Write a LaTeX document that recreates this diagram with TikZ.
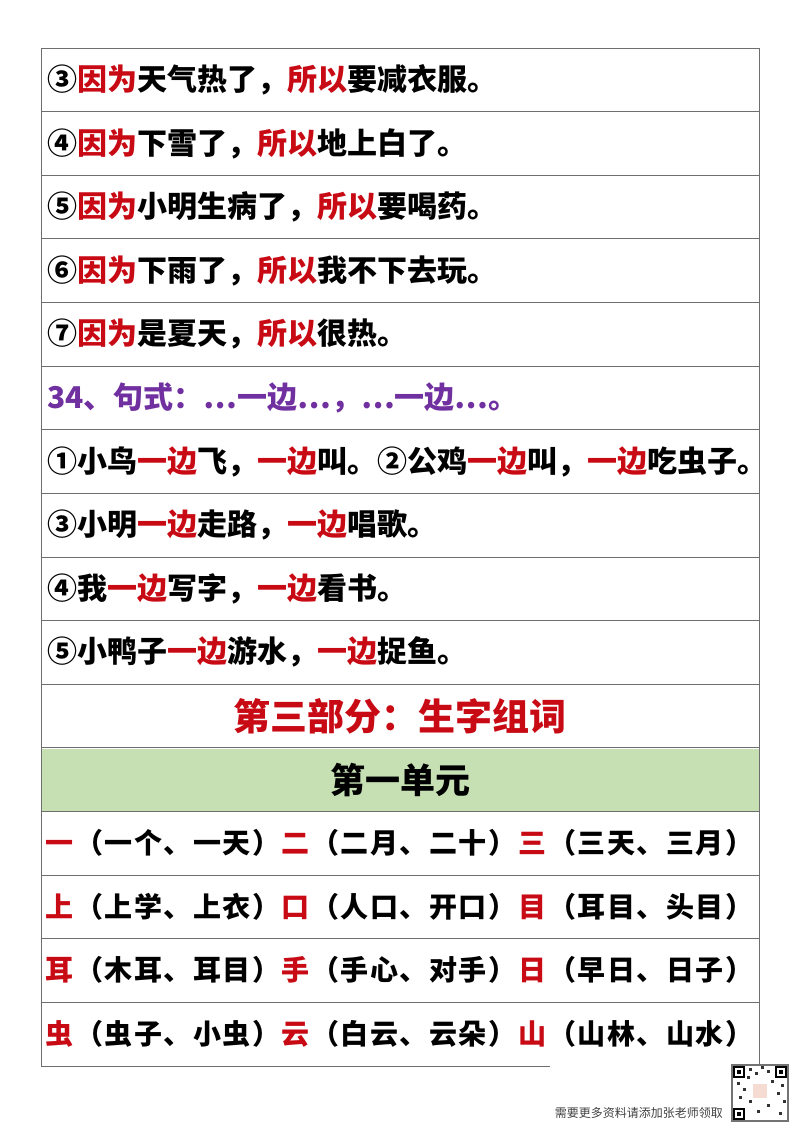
\documentclass[tikz,border=0pt]{standalone}
\usepackage{fontspec}
\setmainfont{Noto Sans CJK SC}
\definecolor{redt}{RGB}{200,10,20}
\definecolor{purp}{RGB}{112,48,160}
\definecolor{greenrow}{RGB}{198,224,180}
\definecolor{linec}{RGB}{110,110,110}
\newcommand{\R}[1]{\textcolor{redt}{#1}}
\newcommand{\cb}[1]{\makebox[29.5pt]{#1}}
\newcommand{\grpx}[8]{\textcolor{redt}{\cb{#1}}\cb{#2}\cb{#3}\cb{#4}\cb{#5}\cb{#6}\cb{#7}\cb{#8}}
\begin{document}
\begin{tikzpicture}[x=1pt,y=-1pt,
  row/.style={anchor=west,font=\fontsize{30}{30}\selectfont\bfseries,inner sep=0pt},
  grp/.style={anchor=west,font=\fontsize{28}{28}\selectfont\bfseries,inner sep=0pt}]
\useasboundingbox (0,0) rectangle (800,1132);
\fill[greenrow] (41,748.5) rectangle (759,812);
\foreach \i in {0,...,15}{\draw[linec,line width=0.8pt] (41,{48+\i*63.625}) -- (759,{48+\i*63.625});}
\draw[linec,line width=0.8pt] (41,1066) -- (550,1066);
\draw[linec,line width=0.8pt] (41,48) -- (41,1066);
\draw[linec,line width=0.8pt] (759,48) -- (759,1066);
\node[row] (r1) at (47,80) {③\R{因为}天气热了，\R{所以}要减衣服。};
\node[row] (r2) at (47,144) {④\R{因为}下雪了，\R{所以}地上白了。};
\node[row] (r3) at (47,207) {⑤\R{因为}小明生病了，\R{所以}要喝药。};
\node[row] (r4) at (47,271) {⑥\R{因为}下雨了，\R{所以}我不下去玩。};
\node[row] (r5) at (47,334) {⑦\R{因为}是夏天，\R{所以}很热。};
\node[row,text=purp] (r6) at (47,398) {34、句式：…一边…，…一边…。};
\node[row] (r7) at (47,462) {①小鸟\R{一边}飞，\R{一边}叫。②公鸡\R{一边}叫，\R{一边}吃虫子。};
\node[row] (r8) at (47,525) {③小明\R{一边}走路，\R{一边}唱歌。};
\node[row] (r9) at (47,589) {④我\R{一边}写字，\R{一边}看书。};
\node[row] (r10) at (47,652) {⑤小鸭子\R{一边}游水，\R{一边}捉鱼。};
\node[inner sep=0pt,font=\fontsize{37}{37}\selectfont\bfseries,text=redt] (t1) at (400,716) {第三部分：生字组词};
\node[inner sep=0pt,font=\fontsize{35}{35}\selectfont\bfseries] (t2) at (400,780) {第一单元};
\node[grp] (a1) at (45,843) {\grpx{一}{（}{一}{个}{、}{一}{天}{）}};
\node[grp] (a2) at (281,843) {\grpx{二}{（}{二}{月}{、}{二}{十}{）}};
\node[grp] (a3) at (518,843) {\grpx{三}{（}{三}{天}{、}{三}{月}{）}};
\node[grp] (b1) at (45,907) {\grpx{上}{（}{上}{学}{、}{上}{衣}{）}};
\node[grp] (b2) at (281,907) {\grpx{口}{（}{人}{口}{、}{开}{口}{）}};
\node[grp] (b3) at (518,907) {\grpx{目}{（}{耳}{目}{、}{头}{目}{）}};
\node[grp] (c1) at (45,970) {\grpx{耳}{（}{木}{耳}{、}{耳}{目}{）}};
\node[grp] (c2) at (281,970) {\grpx{手}{（}{手}{心}{、}{对}{手}{）}};
\node[grp] (c3) at (518,970) {\grpx{日}{（}{早}{日}{、}{日}{子}{）}};
\node[grp] (d1) at (45,1034) {\grpx{虫}{（}{虫}{子}{、}{小}{虫}{）}};
\node[grp] (d2) at (281,1034) {\grpx{云}{（}{白}{云}{、}{云}{朵}{）}};
\node[grp] (d3) at (518,1034) {\grpx{山}{（}{山}{林}{、}{山}{水}{）}};
\node[anchor=east,inner sep=0pt,font=\fontsize{12}{12}\selectfont,text=black!75] (ft) at (723,1113) {需要更多资料请添加张老师领取};
% QR code
\fill[black!55] (731,1064) rectangle (789,1122);
\fill[white] (733,1066) rectangle (787,1120);
\foreach \x/\y in {733/1066,775/1066,733/1108}{
  \fill[black] (\x,\y) rectangle ++(12,12);
  \fill[white] (\x+2,\y+2) rectangle ++(8,8);
  \fill[black] (\x+4,\y+4) rectangle ++(4,4);}
\foreach \x/\y in {749/1068,755/1072,761/1066,767/1070,737/1082,743/1088,781/1084,777/1092,749/1100,757/1110,767/1104,779/1112,739/1096,783/1100,771/1080,747/1076}{
  \fill[black!80] (\x,\y) rectangle ++(3,3);}
\fill[pink!60!brown!40] (753,1084) rectangle (767,1098);
\end{tikzpicture}
\end{document}
